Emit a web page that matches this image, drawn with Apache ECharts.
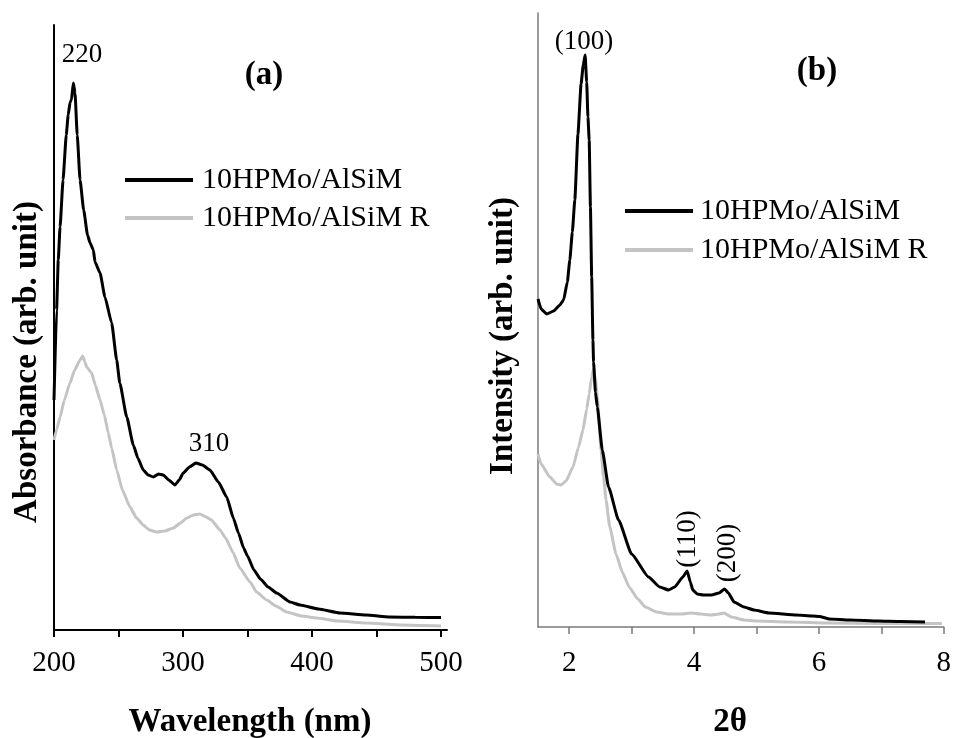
<!DOCTYPE html>
<html>
<head>
<meta charset="utf-8">
<script src="https://cdn.jsdelivr.net/npm/echarts@6/dist/echarts.min.js"></script>
<style>html,body{margin:0;padding:0;background:#fff;}#c{width:954px;height:738px;}</style>
</head>
<body>
<div id="c"></div>
<script>
// ---- Data ----
const seriesNames = ['10HPMo/AlSiM', '10HPMo/AlSiM R'];

// (a) UV-Vis: wavelength (nm), absorbance (arb. unit)
const uvFreshWl = [200,202,203.3,204.7,207,209.5,211,212.5,213.5,215,216.3,218,220.2,223,226,228,230.5,231.8,235.7,239.5,244.7,248.6,251,256.4,261.5,265,269.2,273,277,281,284.7,289,293.8,297,300.2,305,310,315,320.9,327.4,333.9,339,343,347,350,355,360,366,372.6,383,390.7,405,421.7,442,460,480,500];
const uvFreshAbs = [230,320,370,403,450,495,515,528,530,547,537,495,450,420,395,387,380,368,357,333,307,270,247,213,185,172,160,155,153,156,155,150,145,150,157,163,167,165,160,148,133,112,97,82,74,60,51,43,37,28,25,21,17,15,13,12.7,12.5];
const uvReusedWl = [200,202,204.7,208,212.4,216,220.2,222.2,224,225.3,229.2,232,235.7,239,242.1,244.7,248.6,253,258.9,264,269.2,274,279.6,286,292.5,298,302.9,308,313,318,322,328.7,333,339,344,352,357,364.9,372,380.4,392,403.6,420,442,470,500];
const uvReusedAbs = [190,200,213,230,247,260,270,274,268,263,257,245,230,215,197,182,160,140,123,112,105,100,98,99,102,107,112,115,116,113,110,100,92,77,62,48,38,30,24,18,14,12,9,7,5,4];

// (b) XRD: 2theta, intensity (arb. unit)
const xrdFreshTt = [1.5,1.55,1.64,1.75,1.85,1.91,1.97,2.01,2.05,2.09,2.14,2.19,2.225,2.255,2.28,2.3,2.32,2.34,2.36,2.38,2.39,2.42,2.45,2.53,2.63,2.79,3.0,3.27,3.45,3.59,3.69,3.82,3.89,3.94,3.98,4.05,4.15,4.28,4.4,4.49,4.55,4.64,4.8,4.96,5.2,5.64,5.9,6.01,6.17,6.5,6.96,7.3,7.7];
const xrdFreshInt = [328,318,313,316,322,327,345,367,395,427,493,543,562,572,545,510,487,420,350,287,265,235,220,177,140,107,73,50,40,37,40,50,56,45,37,33,32,32,34,38,34,25,20,17,14,12,11,10.5,8,7,6,5.5,5];
const xrdReusedTt = [1.5,1.55,1.69,1.8,1.87,1.95,2.06,2.15,2.22,2.28,2.32,2.36,2.39,2.42,2.45,2.51,2.55,2.59,2.65,2.75,2.85,2.96,3.1,3.22,3.4,3.59,3.8,3.96,4.1,4.27,4.4,4.48,4.6,4.8,5.0,5.5,6.17,7.0,7.97];
const xrdReusedInt = [173,163,150,143,142,146,160,180,197,218,233,250,258,248,230,177,150,127,100,73,55,40,28,20,15,13,13,14,13,12,13,14,10,7,6,5,4,3.6,3.4];

// Tick labels
const uvTickLabels = [200, 300, 400, 500];
const uvTickMarks = [200, 250, 300, 350, 400, 450, 500];
const xrdTickLabels = [2, 4, 6, 8];
const xrdTickMarks = [2, 3, 4, 5, 6, 7, 8];

// Annotations
const uvPeakLabels = ['220', '310'];
const xrdPeakLabels = ['(100)', '(110)', '(200)'];

const zip = (a, b) => a.map((v, i) => [v, b[i]]);

const SERIF = '"Liberation Serif", "Times New Roman", serif';
const BLACK = '#000000';
const GRAY = '#c4c4c4';

const chart = echarts.init(document.getElementById('c'), null, {renderer: 'canvas'});

function xAxisCfg(gridIndex, min, max, labels, ticks, color, width, margin) {
  return {
    type: 'value', gridIndex, min, max,
    axisLine: {show: true, onZero: false, lineStyle: {color, width}},
    axisTick: {show: true, length: 7, inside: false, customValues: ticks, lineStyle: {color, width}},
    axisLabel: {show: true, customValues: labels, margin, color: '#000', fontFamily: SERIF, fontSize: 29},
    splitLine: {show: false}
  };
}
function yAxisCfg(gridIndex, max, color, width) {
  return {
    type: 'value', gridIndex, min: 0, max,
    axisLine: {show: true, onZero: false, lineStyle: {color, width}},
    axisTick: {show: false}, axisLabel: {show: false}, splitLine: {show: false}
  };
}
function lineSeries(name, xIdx, data, color, width, z) {
  return {
    name, type: 'line', xAxisIndex: xIdx, yAxisIndex: xIdx, data,
    showSymbol: false, symbol: 'none', smooth: 0.15, smoothMonotone: 'x', z,
    lineStyle: {color, width}, itemStyle: {color}, animation: false
  };
}
function legendCfg(left, top, gap, pad) {
  return {
    orient: 'vertical', left, top, padding: 0, data: seriesNames,
    icon: 'rect', itemWidth: 68, itemHeight: 4, itemGap: gap,
    textStyle: {fontFamily: SERIF, fontSize: 30, lineHeight: 34, color: '#000', padding: [0, 0, 0, pad]},
    selectedMode: false
  };
}
function txt(text, x, y, size, bold, rot) {
  return {
    type: 'text', x, y, rotation: rot ? Math.PI / 2 : 0, silent: true,
    style: {text, fill: '#000', font: (bold ? 'bold ' : '') + size + 'px ' + SERIF, align: 'center', verticalAlign: 'middle'}
  };
}

chart.setOption({
  backgroundColor: '#ffffff',
  animation: false,
  grid: [
    {left: 54, top: 25, width: 393, height: 605},
    {left: 538, top: 13, width: 410, height: 614}
  ],
  xAxis: [
    xAxisCfg(0, 200, 504.65, uvTickLabels, uvTickMarks, '#000', 2, 19),
    xAxisCfg(1, 1.5, 8, xrdTickLabels, xrdTickMarks, '#7a7a7a', 1.5, 22)
  ],
  yAxis: [
    yAxisCfg(0, 605, '#000', 2),
    yAxisCfg(1, 614, '#7a7a7a', 1.5)
  ],
  legend: [legendCfg(125, 163, 4, 4), legendCfg(625, 194, 5, 2)],
  series: [
    lineSeries(seriesNames[1], 0, zip(uvReusedWl, uvReusedAbs), GRAY, 3, 2),
    lineSeries(seriesNames[0], 0, zip(uvFreshWl, uvFreshAbs), BLACK, 3, 3),
    lineSeries(seriesNames[1], 1, zip(xrdReusedTt, xrdReusedInt), GRAY, 3, 2),
    lineSeries(seriesNames[0], 1, zip(xrdFreshTt, xrdFreshInt), BLACK, 3, 3)
  ],
  graphic: [
    txt(uvPeakLabels[0], 82, 55, 27, false, false),
    txt(uvPeakLabels[1], 209, 444, 27, false, false),
    txt('(a)', 264, 75, 33, true, false),
    txt(xrdPeakLabels[0], 584, 42, 27, false, false),
    txt(xrdPeakLabels[1], 688, 539, 27, false, true),
    txt(xrdPeakLabels[2], 727.5, 553, 27, false, true),
    txt('(b)', 817, 71, 33, true, false),
    txt('Absorbance (arb. unit)', 27, 362, 33, true, true),
    txt('Intensity (arb. unit)', 503, 336, 33, true, true),
    txt('Wavelength (nm)', 250, 722, 33, true, false),
    txt('2θ', 730, 722, 33, true, false)
  ]
});
</script>
</body>
</html>
